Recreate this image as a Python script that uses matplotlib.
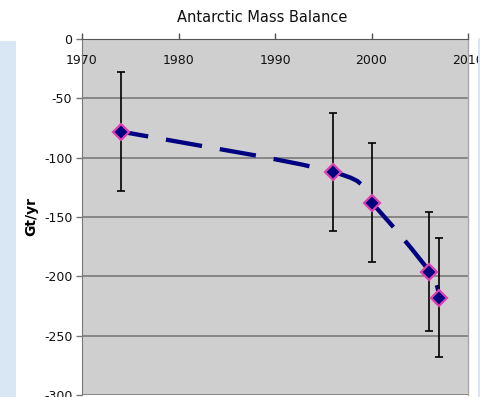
import matplotlib
matplotlib.use("Agg")
import matplotlib.pyplot as plt
from matplotlib.path import Path
from matplotlib.patches import PathPatch, Rectangle
import numpy as np

years = [1974, 1996, 2000, 2006, 2007]
mass_balance = [-78, -112, -138, -196, -218]
errors = [50, 50, 50, 50, 50]
x_ticks = [1970, 1980, 1990, 2000, 2010]
y_ticks = [0, -50, -100, -150, -200, -250, -300]
title = "Antarctic Mass Balance"
ylabel = "Gt/yr"

W, H = 481, 397
fig = plt.figure(figsize=(W / 100, H / 100), dpi=100)
fig.patch.set_facecolor("white")

# slide background strips (pale ice-blue)
fig.add_artist(Rectangle((0, 0), 16 / W, 1 - 41 / H, transform=fig.transFigure,
                         facecolor="#d9e6f3", edgecolor="none", zorder=0))
fig.add_artist(Rectangle((478 / W, 0), 3 / W, 1 - 38 / H, transform=fig.transFigure,
                         facecolor="#d9e6f3", edgecolor="none", zorder=10))

ax = fig.add_axes([82 / W, 1 - 395 / H, (468 - 82) / W, (395 - 39) / H])
ax.set_facecolor("#cfcfcf")
ax.set_xlim(1970, 2010)
ax.set_ylim(-300, 0)

ax.spines["top"].set_visible(False)
ax.spines["bottom"].set_position(("data", 0))
ax.spines["bottom"].set_color("#555555")
ax.spines["left"].set_color("#777777")
ax.spines["right"].set_color("#a8a8a8")
ax.spines["right"].set_linewidth(1.0)

ax.set_xticks(x_ticks)
ax.set_xticklabels([str(t) for t in x_ticks])
ax.tick_params(axis="x", direction="in", length=4, width=1, color="#555555",
               labelsize=9, pad=11)
ax.set_yticks(y_ticks)
ax.set_yticklabels([str(t) for t in y_ticks])
ax.tick_params(axis="y", direction="out", length=4, width=1, color="#777777",
               labelsize=9, pad=3)
for lab in ax.get_xticklabels() + ax.get_yticklabels():
    lab.set_color("#111111")

ax.yaxis.grid(True, color="#7a7a7a", linewidth=1.2)
ax.set_axisbelow(True)

# smoothed dashed line (Catmull-Rom style bezier through the data points)
pts = np.column_stack([years, mass_balance]).astype(float)
n = len(pts)
verts = [tuple(pts[0])]
codes = [Path.MOVETO]
for i in range(n - 1):
    p0 = pts[max(i - 1, 0)]
    p1 = pts[i]
    p2 = pts[i + 1]
    p3 = pts[min(i + 2, n - 1)]
    c1 = p1 + (p2 - p0) / 6.0
    c2 = p2 - (p3 - p1) / 6.0
    verts += [tuple(c1), tuple(c2), tuple(p2)]
    codes += [Path.CURVE4] * 3
curve = PathPatch(Path(verts, codes), facecolor="none", edgecolor="#000080",
                  linewidth=3.1, linestyle=(2, (8.5, 4.2)), zorder=3,
                  capstyle="butt")
ax.add_patch(curve)

ax.errorbar(years, mass_balance, yerr=errors, fmt="none", ecolor="black",
            elinewidth=1.2, capsize=3, capthick=1.2, zorder=4)
ax.plot(years, mass_balance, linestyle="none", marker="D", markersize=8.5,
        markerfacecolor="#000080", markeredgecolor="#e040b0",
        markeredgewidth=1.6, zorder=5)

ax.set_ylabel(ylabel, fontsize=10, fontweight="bold", labelpad=4)
fig.text(262 / W, 1 - 18 / H, title, ha="center", va="center", fontsize=10.5,
         color="#111111")

fig.savefig("out.png", dpi=100)
